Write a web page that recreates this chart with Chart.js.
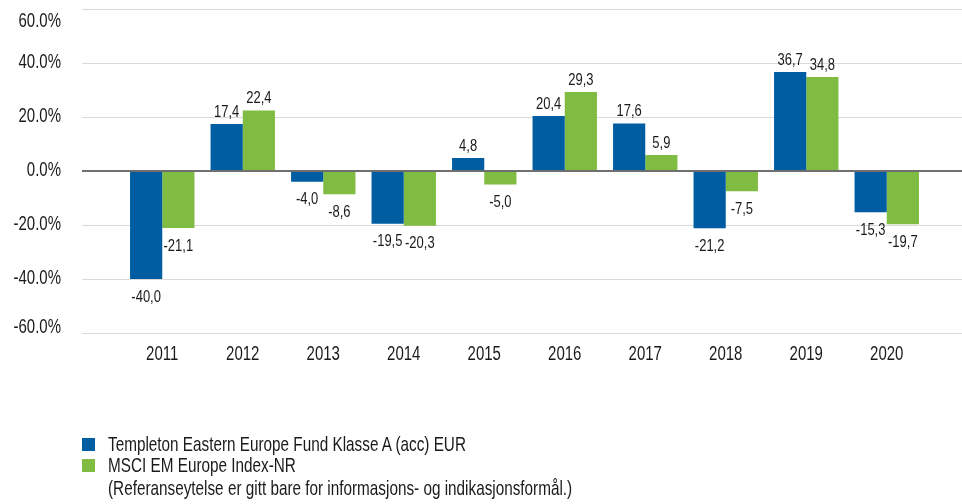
<!DOCTYPE html>
<html>
<head>
<meta charset="utf-8">
<script src="https://cdn.jsdelivr.net/npm/chart.js@4"></script>
<style>
  html, body { margin: 0; padding: 0; background: #fff; }
  #wrap { position: relative; width: 962px; height: 504px; overflow: hidden; }
  canvas { position: absolute; left: 0; top: 0; }
  .lg { position: absolute; font-family: 'Liberation Sans', Arial, sans-serif; font-size: 15.3px; color: #1a1a1a; white-space: nowrap; line-height: 20px; height: 20px; transform: scaleY(1.3); transform-origin: left center; }
  .sw { position: absolute; width: 13px; height: 13px; }
</style>
</head>
<body>
<div id="wrap">
  <canvas id="c" width="962" height="504"></canvas>
  <div class="sw" style="left:82px;top:438px;background:#005DA2"></div>
  <div class="lg" style="left:108px;top:434px">Templeton Eastern Europe Fund Klasse A (acc) EUR</div>
  <div class="sw" style="left:82px;top:459px;background:#80BC42"></div>
  <div class="lg" style="left:108px;top:455px">MSCI EM Europe Index-NR</div>
  <div class="lg" style="left:108px;top:478px">(Referanseytelse er gitt bare for informasjons- og indikasjonsformål.)</div>
</div>
<script>
const years = ['2011','2012','2013','2014','2015','2016','2017','2018','2019','2020'];
const fundValues = [-40.0, 17.4, -4.0, -19.5, 4.8, 20.4, 17.6, -21.2, 36.7, -15.3];
const indexValues = [-21.1, 22.4, -8.6, -20.3, -5.0, 29.3, 5.9, -7.5, 34.8, -19.7];
const fundName = 'Templeton Eastern Europe Fund Klasse A (acc) EUR';
const indexName = 'MSCI EM Europe Index-NR';
const yTicks = [60, 40, 20, 0, -20, -40, -60];

const FONT = "'Liberation Sans', Arial, sans-serif";
const STRETCH = 1.3;
const TXT = '#1a1a1a';

function stretchedText(ctx, txt, x, y, align) {
  ctx.save();
  ctx.translate(x, y);
  ctx.scale(1, STRETCH);
  ctx.textAlign = align;
  ctx.textBaseline = 'middle';
  ctx.fillText(txt, 0, 0);
  ctx.restore();
}

const drawPlugin = {
  id: 'drawPlugin',
  beforeDatasetsDraw(chart) {
    const ctx = chart.ctx, y = chart.scales.y, x = chart.scales.x, area = chart.chartArea;
    ctx.save();
    ctx.strokeStyle = '#d9d9d9';
    ctx.lineWidth = 1;
    y.ticks.forEach(t => {
      if (t.value === 0) return;
      const py = Math.round(y.getPixelForValue(t.value)) + 0.5;
      ctx.beginPath(); ctx.moveTo(82, py); ctx.lineTo(962, py); ctx.stroke();
    });
    // y tick labels
    ctx.fillStyle = TXT;
    ctx.font = '15px ' + FONT;
    y.ticks.forEach(t => {
      let py = y.getPixelForValue(t.value);
      py = Math.min(Math.max(py, area.top + 13), area.bottom - 5);
      stretchedText(ctx, t.value.toFixed(1) + '%', 61, py, 'right');
    });
    // x tick labels
    x.ticks.forEach((t, i) => {
      stretchedText(ctx, x.getLabelForValue(t.value), x.getPixelForTick(i), area.bottom + 22, 'center');
    });
    ctx.restore();
  },
  afterDatasetsDraw(chart) {
    const ctx = chart.ctx, y = chart.scales.y;
    ctx.save();
    ctx.strokeStyle = '#6f6f6f';
    ctx.lineWidth = 2;
    const py = Math.round(y.getPixelForValue(0));
    ctx.beginPath(); ctx.moveTo(82, py); ctx.lineTo(962, py); ctx.stroke();
    // data labels
    ctx.fillStyle = TXT;
    ctx.font = '13px ' + FONT;
    chart.data.datasets.forEach((ds, di) => {
      const meta = chart.getDatasetMeta(di);
      meta.data.forEach((el, i) => {
        const v = ds.data[i];
        const txt = v.toFixed(1).replace('.', ',');
        const ty = v >= 0 ? el.y - 12 : el.y + 18;
        stretchedText(ctx, txt, el.x, ty, 'center');
      });
    });
    ctx.restore();
  }
};

new Chart(document.getElementById('c'), {
  type: 'bar',
  data: {
    labels: years,
    datasets: [
      { label: fundName, data: fundValues, backgroundColor: '#005DA2', borderWidth: 0 },
      { label: indexName, data: indexValues, backgroundColor: '#80BC42', borderWidth: 0 }
    ]
  },
  options: {
    responsive: false,
    animation: false,
    devicePixelRatio: 1,
    layout: { padding: { top: 9, right: 35, bottom: 0, left: 0 } },
    datasets: { bar: { categoryPercentage: 0.8, barPercentage: 1.0 } },
    plugins: { legend: { display: false }, tooltip: { enabled: false } },
    scales: {
      x: {
        grid: { display: false },
        border: { display: false },
        ticks: { display: false },
        afterFit(s) { s.height = 171; }
      },
      y: {
        min: -60, max: 60,
        afterBuildTicks(s) { s.ticks = yTicks.map(v => ({ value: v })); },
        grid: { display: false },
        border: { display: false },
        ticks: { display: false },
        afterFit(s) { s.width = 122; }
      }
    }
  },
  plugins: [drawPlugin]
});
</script>
</body>
</html>
